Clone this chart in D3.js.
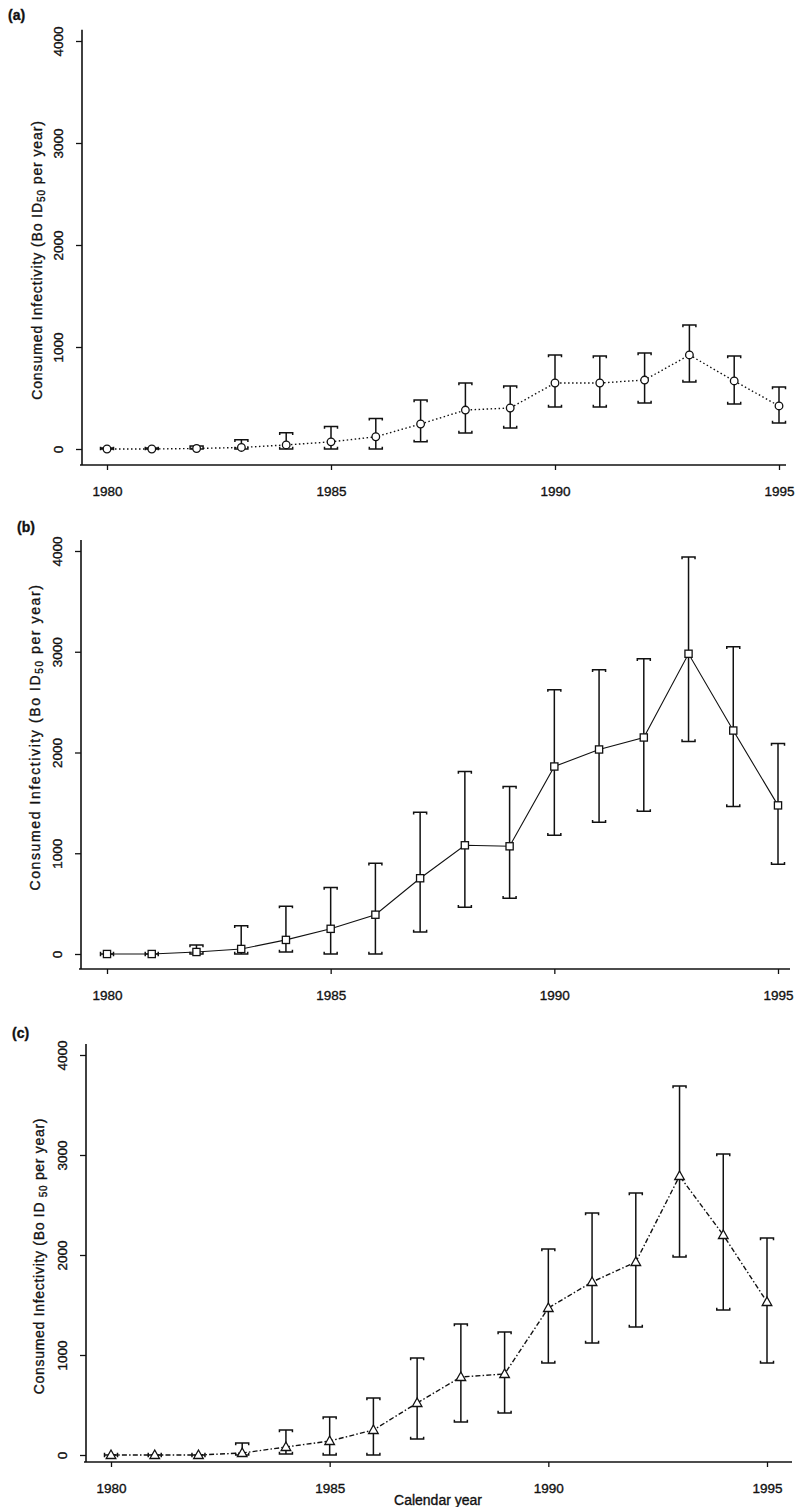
<!DOCTYPE html>
<html>
<head>
<meta charset="utf-8">
<script src="https://cdn.jsdelivr.net/npm/d3@7"></script>
<style>
  body { margin: 0; background: #fff; }
  text { font-family: "Liberation Sans", Arial, sans-serif; fill: #111; stroke: #111; stroke-width: 0.35px; }
</style>
</head>
<body>
<div id="chart"></div>
<script>
// data
var years = [1980, 1981, 1982, 1983, 1984, 1985, 1986, 1987, 1988, 1989, 1990, 1991, 1992, 1993, 1994, 1995];
var xTicks = [1980, 1985, 1990, 1995];
var yTicks = [0, 1000, 2000, 3000, 4000];

// (a) circles, dotted
var aMean = [0, 0, 5, 15, 40, 70, 120, 245, 382, 402, 647, 647, 676, 922, 667, 422];
var aLow  = [0, 0, 0, 0, 0, 0, 0, 70, 157, 206, 412, 412, 451, 657, 441, 255];
var aHigh = [10, 10, 30, 90, 160, 220, 300, 480, 647, 618, 922, 912, 941, 1216, 912, 608];

// (b) squares, solid
var bMean = [0, 0, 20, 50, 140, 250, 390, 752, 1079, 1069, 1861, 2030, 2149, 2980, 2218, 1475];
var bLow  = [0, 0, 0, 0, 20, 0, 0, 218, 465, 554, 1178, 1307, 1416, 2109, 1465, 891];
var bHigh = [0, 0, 90, 280, 475, 660, 900, 1406, 1812, 1663, 2624, 2822, 2931, 3941, 3050, 2089];

// (c) triangles, dash-dot
var cMean = [0, 0, 0, 20, 80, 140, 250, 520, 780, 810, 1470, 1730, 1930, 2790, 2200, 1530];
var cLow  = [0, 0, 0, 0, 10, 0, 0, 160, 330, 420, 920, 1120, 1280, 1980, 1450, 920];
var cHigh = [0, 0, 0, 120, 250, 380, 570, 970, 1310, 1230, 2060, 2420, 2620, 3690, 3010, 2170];

var W = 795, H = 1507;

var svg = d3.select("#chart").append("svg")
    .attr("width", W)
    .attr("height", H)
    .style("background-color", "white");

// one entry per panel: layout on the page
var panels = [
  {tag: "(a)", tagX: 8, tagY: 20, mean: aMean, low: aLow, high: aHigh, marker: "circle", dash: "1.5,2.5",
   axX: 82, y0: 449, y4000: 41, axY: 465, x0: 107, x1: 779, right: 786, labX: 37, labY: 260, labSpace: 0.9, labSep: ""},
  {tag: "(b)", tagX: 17, tagY: 532, mean: bMean, low: bLow, high: bHigh, marker: "square", dash: null,
   axX: 81, y0: 954, y4000: 551, axY: 969, x0: 107, x1: 778, right: 790, labX: 35, labY: 737, labSpace: 1.6, labSep: ""},
  {tag: "(c)", tagX: 12, tagY: 1038, mean: cMean, low: cLow, high: cHigh, marker: "triangle", dash: "5,2.2,1.5,2.2",
   axX: 86, y0: 1455, y4000: 1055, axY: 1462, x0: 111, x1: 767, right: 792, labX: 39, labY: 1256, labSpace: 0.7, labSep: " "}
];

panels.forEach(function(p) {
  var x = d3.scaleLinear().domain([1980, 1995]).range([p.x0, p.x1]);
  var y = d3.scaleLinear().domain([0, 4000]).range([p.y0, p.y4000]);
  var g = svg.append("g");

  var pts = years.map(function(yr, i) {
    return {year: yr, v: p.mean[i], lo: p.low[i], hi: p.high[i]};
  });

  // panel tag
  g.append("text")
    .attr("x", p.tagX).attr("y", p.tagY)
    .style("font-size", "14px").style("font-weight", "bold")
    .text(p.tag);

  // y axis
  var yAxis = g.append("g")
    .attr("transform", "translate(" + p.axX + ",0)")
    .call(d3.axisLeft(y).tickValues(yTicks).tickSize(6).tickFormat(d3.format("d")));
  yAxis.select(".domain").remove();
  yAxis.selectAll(".tick line").attr("stroke", "#111").attr("stroke-width", 1.3);
  yAxis.selectAll(".tick text")
    .attr("x", null).attr("dy", null)
    .attr("text-anchor", "middle")
    .attr("transform", "translate(-19,0) rotate(-90)")
    .style("font-size", "13.5px")
    .style("font-family", "Liberation Sans, Arial, sans-serif")
    .attr("fill", "#111");
  g.append("line")
    .attr("x1", p.axX).attr("x2", p.axX)
    .attr("y1", y(4110)).attr("y2", p.axY)
    .attr("stroke", "#111").attr("stroke-width", 1.6);

  // x axis
  var xAxis = g.append("g")
    .attr("transform", "translate(0," + p.axY + ")")
    .call(d3.axisBottom(x).tickValues(xTicks).tickSize(5).tickFormat(d3.format("d")));
  xAxis.select(".domain").remove();
  xAxis.selectAll(".tick line").attr("stroke", "#111").attr("stroke-width", 1.3);
  xAxis.selectAll(".tick text")
    .attr("y", 31).attr("dy", null)
    .style("font-size", "13.5px")
    .style("font-family", "Liberation Sans, Arial, sans-serif")
    .attr("fill", "#111");
  g.append("line")
    .attr("x1", p.axX - 2).attr("x2", p.right)
    .attr("y1", p.axY).attr("y2", p.axY)
    .attr("stroke", "#111").attr("stroke-width", 1.6);

  // y label
  var lab = g.append("text")
    .attr("transform", "translate(" + (p.labX + 5) + "," + p.labY + ") rotate(-90)")
    .attr("text-anchor", "middle")
    .style("font-size", "14px")
    .style("letter-spacing", p.labSpace + "px");
  lab.append("tspan").text("Consumed Infectivity (Bo ID" + p.labSep);
  lab.append("tspan").attr("dy", 3).style("font-size", "10px").text("50");
  lab.append("tspan").attr("dy", -3).text("  per year)");

  // connecting line
  var line = d3.line().x(function(d) { return x(d.year); }).y(function(d) { return y(d.v); });
  g.append("path")
    .datum(pts)
    .attr("d", line)
    .attr("fill", "none")
    .attr("stroke", "#111")
    .attr("stroke-width", p.dash ? 1.4 : 1.1)
    .attr("stroke-dasharray", p.dash);

  // error bars
  var cap = 6.5, serif = 2.2;
  var eb = g.selectAll(".eb").data(pts).enter().append("g").attr("class", "eb");
  eb.append("line")
    .attr("x1", function(d) { return x(d.year); })
    .attr("x2", function(d) { return x(d.year); })
    .attr("y1", function(d) { return y(d.lo); })
    .attr("y2", function(d) { return y(d.hi); })
    .attr("stroke", "#111").attr("stroke-width", 1.5);
  eb.append("path")
    .attr("d", function(d) {
      var cx = x(d.year), t = y(d.hi), b = y(d.lo);
      return "M" + (cx - cap) + "," + (t + serif) + "V" + t + "H" + (cx + cap) + "V" + (t + serif) +
             "M" + (cx - cap) + "," + (b - serif) + "V" + b + "H" + (cx + cap) + "V" + (b - serif);
    })
    .attr("fill", "none")
    .attr("stroke", "#111").attr("stroke-width", 1.5);

  // markers
  var mk = g.selectAll(".mk").data(pts).enter();
  if (p.marker === "circle") {
    mk.append("circle")
      .attr("cx", function(d) { return x(d.year); })
      .attr("cy", function(d) { return y(d.v); })
      .attr("r", 3.8)
      .attr("fill", "white").attr("stroke", "#111").attr("stroke-width", 1.3);
  } else if (p.marker === "square") {
    mk.append("rect")
      .attr("x", function(d) { return x(d.year) - 3.6; })
      .attr("y", function(d) { return y(d.v) - 3.6; })
      .attr("width", 7.2).attr("height", 7.2)
      .attr("fill", "white").attr("stroke", "#111").attr("stroke-width", 1.3);
  } else {
    mk.append("path")
      .attr("d", function(d) {
        var cx = x(d.year), cy = y(d.v);
        return "M" + cx + "," + (cy - 5) + "L" + (cx + 4.8) + "," + (cy + 3.5) + "L" + (cx - 4.8) + "," + (cy + 3.5) + "Z";
      })
      .attr("fill", "white").attr("stroke", "#111").attr("stroke-width", 1.3);
  }
});

// shared x label under the last panel
svg.append("text")
  .attr("x", 438).attr("y", 1505)
  .attr("text-anchor", "middle")
  .style("font-size", "14px")
  .text("Calendar year");
</script>
</body>
</html>
